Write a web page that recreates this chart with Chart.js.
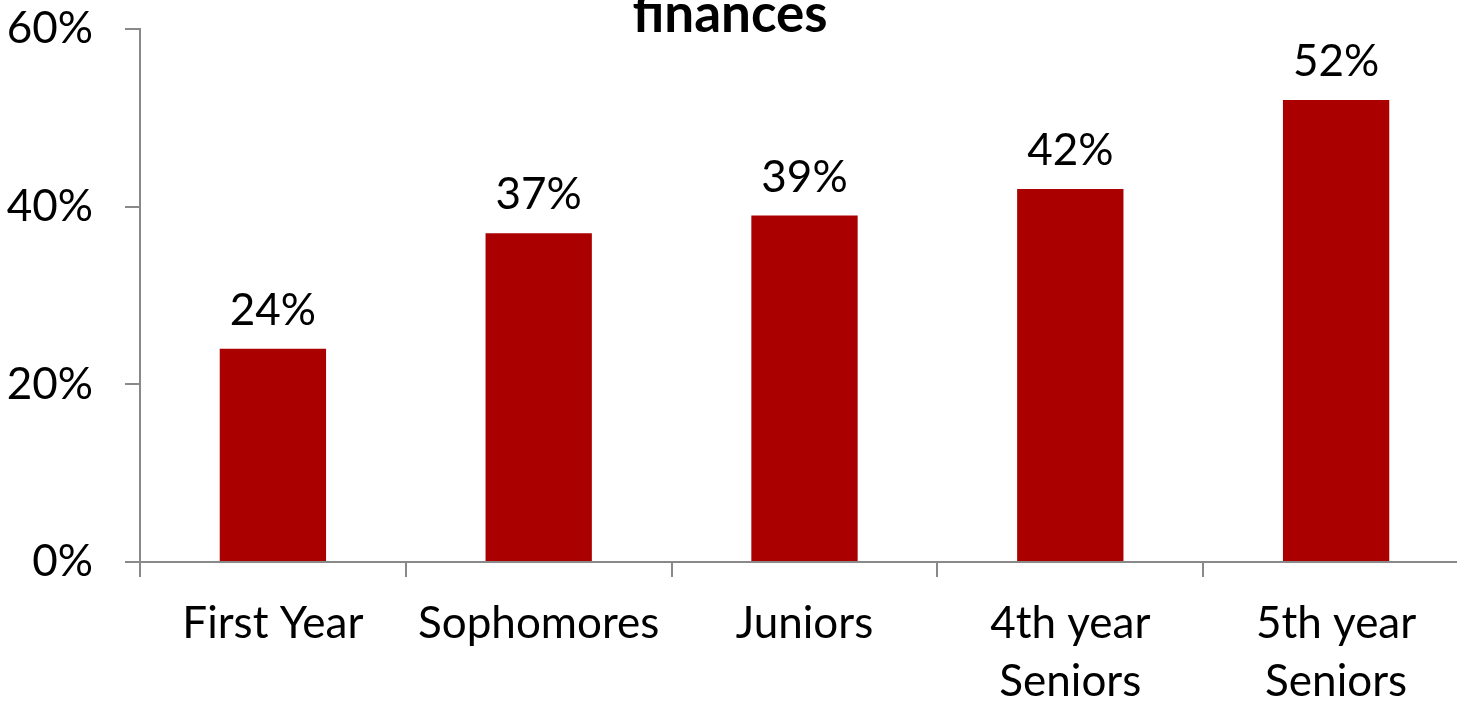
<!DOCTYPE html>
<html>
<head>
<meta charset="utf-8">
<script src="https://cdn.jsdelivr.net/npm/chart.js@4.4.1/dist/chart.umd.min.js"></script>
<style>
    html, body { margin: 0; padding: 0; background: #fff; overflow: hidden; }
    #wrap { width: 1457px; height: 701px; overflow: hidden; position: relative; }
    #box { width: 1480px; height: 701px; position: absolute; left: 0; top: 0; }
</style>
</head>
<body>
<div id="wrap"><div id="box"><canvas id="myChart"></canvas></div></div>
<script>
// data
const categories = [["First Year"], ["Sophomores"], ["Juniors"], ["4th year", "Seniors"], ["5th year", "Seniors"]];
const percentValues = [24, 37, 39, 42, 52];
const yTicks = [0, 20, 40, 60];
const titleText = "finances";

const fontFamily = "Lato, 'Open Sans', sans-serif";
const axisColor = "#898989";

// value labels above bars + title line
const labelPlugin = {
    id: "barLabels",
    afterDatasetsDraw(chart) {
        const ctx = chart.ctx;
        ctx.save();
        ctx.fillStyle = "#000";
        ctx.font = "44px " + fontFamily;
        ctx.textAlign = "center";
        ctx.textBaseline = "alphabetic";
        chart.getDatasetMeta(0).data.forEach((bar, i) => {
            ctx.fillText(percentValues[i] + "%", bar.x, bar.y - 24);
        });
        // title (second line only fits on the canvas)
        ctx.font = "bold 53px " + fontFamily;
        ctx.fillText(titleText, 730, 32);
        ctx.restore();
    }
};

new Chart("myChart", {
    type: "bar",
    data: {
        labels: categories,
        datasets: [{
            data: percentValues,
            backgroundColor: "#aa0000",
            borderWidth: 0,
            categoryPercentage: 1,
            barPercentage: 0.4
        }]
    },
    options: {
        responsive: true,
        maintainAspectRatio: false,
        animation: false,
        layout: {
            padding: { top: 29, right: 11, left: 0, bottom: 0 }
        },
        scales: {
            x: {
                grid: {
                    offset: true,
                    drawOnChartArea: false,
                    drawTicks: true,
                    tickLength: 15,
                    color: axisColor,
                    lineWidth: 2
                },
                border: { color: axisColor, width: 2 },
                ticks: {
                    color: "#000",
                    font: { family: fontFamily, size: 44, lineHeight: 1.32 },
                    padding: 18,
                    maxRotation: 0,
                    autoSkip: false
                },
                afterFit(scale) { scale.height = 139; }
            },
            y: {
                min: 0,
                max: 60,
                afterBuildTicks(scale) {
                    scale.ticks = yTicks.map(v => ({ value: v }));
                },
                grid: {
                    drawOnChartArea: false,
                    drawTicks: true,
                    tickLength: 15,
                    color: axisColor,
                    lineWidth: 2
                },
                border: { color: axisColor, width: 2 },
                ticks: {
                    color: "#000",
                    font: { family: fontFamily, size: 44 },
                    padding: 32,
                    callback: v => v + "%"
                },
                afterFit(scale) {
                    scale.width = 140;
                    scale.paddingTop = 0;
                    scale.paddingBottom = 0;
                }
            }
        },
        plugins: {
            legend: { display: false },
            tooltip: { enabled: false },
            title: { display: false }
        }
    },
    plugins: [labelPlugin]
});
</script>
</body>
</html>
